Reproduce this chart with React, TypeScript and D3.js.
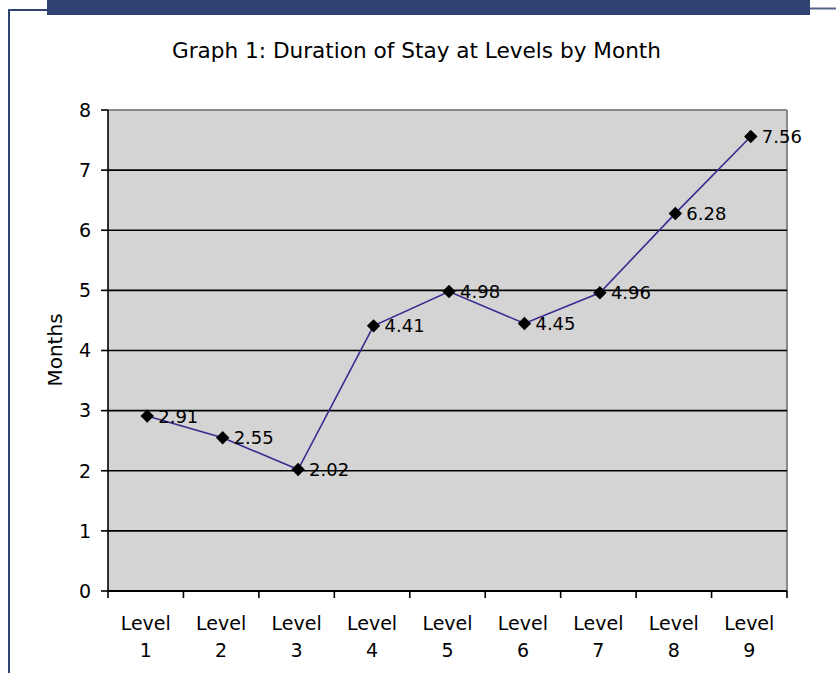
import React from "react";
import * as d3 from "d3";

const categories = ["Level 1", "Level 2", "Level 3", "Level 4", "Level 5", "Level 6", "Level 7", "Level 8", "Level 9"];
const values = [2.91, 2.55, 2.02, 4.41, 4.98, 4.45, 4.96, 6.28, 7.56];
const yTicks = [0, 1, 2, 3, 4, 5, 6, 7, 8];
const title = "Graph 1: Duration of Stay at Levels by Month";
const yTitle = "Months";

const W = 836, H = 673;
const L = 108, R = 787, T = 110, B = 591;
const font = "'DejaVu Sans', Verdana, sans-serif";

export default function App() {
  const x = d3.scaleBand<string>().domain(categories).range([L, R]).padding(0);
  const y = d3.scaleLinear().domain([0, 8]).range([B, T]);
  const cx = (c: string) => (x(c) as number) + x.bandwidth() / 2 + 1.5;
  const line = d3.line<number>().x((_, i) => cx(categories[i])).y((v) => y(v));
  const boundaries = categories.map((c) => x(c) as number).concat([R]);
  const diamond = d3.symbol().type(d3.symbolDiamond2).size(115);
  return (
    <svg width={W} height={H} style={{ position: "absolute", left: 0, top: 0 }} fontFamily={font}>
      <rect x={0} y={0} width={W} height={H} fill="#fff" />
      {/* frame */}
      <rect x={47} y={0} width={763} height={15} fill="#2E4371" />
      <line x1={9} y1={10} x2={9} y2={H} stroke="#2E4371" strokeWidth={2} />
      <line x1={8} y1={10} x2={47} y2={10} stroke="#2E4371" strokeWidth={2} />
      <line x1={810} y1={8.5} x2={W} y2={8.5} stroke="#52628a" strokeWidth={2} />
      {/* title */}
      <text x={416.5} y={58} textAnchor="middle" fontSize={21.6} fill="#000">{title}</text>
      {/* plot area */}
      <rect x={L} y={T} width={R - L} height={B - T} fill="#D4D4D4" />
      <line x1={L} y1={T} x2={R} y2={T} stroke="#8a8a8a" strokeWidth={2} />
      <line x1={R} y1={T} x2={R} y2={B} stroke="#8a8a8a" strokeWidth={2} />
      {yTicks.filter((t) => t > 0 && t < 8).map((t) => (
        <line key={"g" + t} x1={L} x2={R} y1={y(t)} y2={y(t)} stroke="#000" strokeWidth={1.6} />
      ))}
      {/* y axis */}
      <line x1={L} y1={T} x2={L} y2={B} stroke="#000" strokeWidth={1.6} />
      {yTicks.map((t) => (
        <g key={"yt" + t}>
          <line x1={L - 7} x2={L} y1={y(t)} y2={y(t)} stroke="#000" strokeWidth={1.6} />
          <text x={91} y={y(t)} dy="0.36em" textAnchor="end" fontSize={19}>{t}</text>
        </g>
      ))}
      <text transform={`translate(62,350) rotate(-90)`} textAnchor="middle" fontSize={20}>{yTitle}</text>
      {/* x axis */}
      <line x1={L} y1={B} x2={R} y2={B} stroke="#000" strokeWidth={2} />
      {boundaries.map((b, i) => (
        <line key={"xt" + i} x1={b} x2={b} y1={B} y2={B + 7} stroke="#000" strokeWidth={1.6} />
      ))}
      {categories.map((c) => {
        const [w1, w2] = c.split(" ");
        const xc = (x(c) as number) + x.bandwidth() / 2;
        return (
          <g key={"xl" + c}>
            <text x={xc} y={630} textAnchor="middle" fontSize={19}>{w1}</text>
            <text x={xc} y={657} textAnchor="middle" fontSize={19}>{w2}</text>
          </g>
        );
      })}
      {/* series */}
      <path d={line(values) || ""} fill="none" stroke="#3A2A90" strokeWidth={1.6} />
      {values.map((v, i) => (
        <path key={"m" + i} d={diamond() || ""} transform={`translate(${cx(categories[i])},${y(v)})`} fill="#000" />
      ))}
      {values.map((v, i) => (
        <text key={"v" + i} x={cx(categories[i]) + 11} y={y(v) + 6.5} fontSize={18} fill="#000">{v.toFixed(2)}</text>
      ))}
    </svg>
  );
}
